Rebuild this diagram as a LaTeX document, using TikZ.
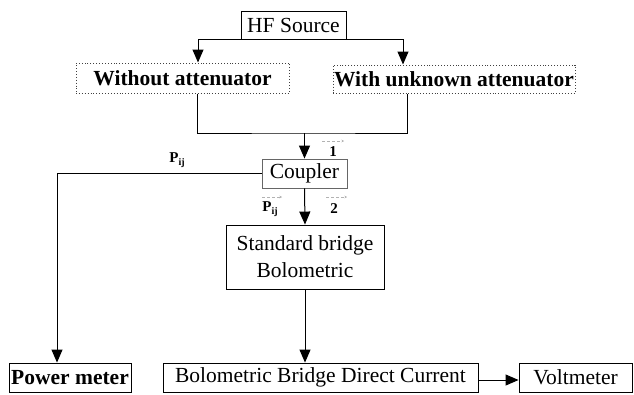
\documentclass[tikz,border=0pt]{standalone}
\usepackage{fontspec}
\setmainfont{Liberation Serif}
\usetikzlibrary{arrows.meta}
\tikzset{
  box/.style={draw=black, line width=0.9pt, rectangle, inner sep=0pt, align=center,
              font=\fontsize{21.5}{27}\selectfont},
  dotbox/.style={box, draw=black!75, dotted, line width=1pt, font=\fontsize{21.5}{27}\selectfont\bfseries},
  conn/.style={draw=black, line width=1pt},
  arr/.style={conn, -{Triangle[width=11pt,length=13pt]}},
  lbl/.style={inner sep=0pt, font=\fontsize{15}{18}\selectfont\bfseries},
  vec/.style={draw=black!30, line width=0.6pt, densely dashed, -{Stealth[length=2.5pt,width=2.5pt]}}
}
\newcommand{\pij}{P\raisebox{-3pt}{\fontsize{10}{12}\selectfont ij}}
\begin{document}
\begin{tikzpicture}[x=1pt,y=-1pt]
\useasboundingbox (0,0) rectangle (634,394);

% blocks
\node[box, minimum width=105, minimum height=28] (hf) at (293.5,25) {HF Source};
\node[dotbox, minimum width=213, minimum height=30] (wo) at (182.5,78) {Without attenuator};
\node[dotbox, minimum width=242, minimum height=28] (wi) at (454,79) {With unknown attenuator};
\node[box, draw=black!60, minimum width=85, minimum height=29] (cp) at (304.5,173.5) {Coupler};
\node[box, minimum width=158, minimum height=64] (sb) at (305,257) {Standard bridge\\Bolometric};
\node[box, minimum width=122, minimum height=29, font=\fontsize{21.5}{27}\selectfont\bfseries] (pm) at (70,377.5) {Power meter};
\node[box, minimum width=315, minimum height=29] (bb) at (320.5,377.5) {Bolometric Bridge Direct Current};
\node[box, minimum width=113, minimum height=29] (vm) at (575.5,377.5) {Voltmeter};

% source split
\draw[arr] (hf.south) -| ([xshift=15.5]wo.north);
\draw[arr] (hf.south) -| ([xshift=-51]wi.north);

% merge into coupler
\coordinate (j) at (304.5,133);
\draw[conn] ([xshift=14.5]wo.south) |- (j) -| ([xshift=-47]wi.south);
\draw[arr] (j) -- (cp.north);

% coupler outputs
\draw[arr] (cp.west) -| ([xshift=-13]pm.north);
\draw[arr] (cp.south) -- (sb.north);
\draw[arr] (sb.south) -- (sb.south |- bb.north);
\draw[arr] ([yshift=-2.5]bb.east) -- ([yshift=-2.5]vm.west);

% port labels
\node[lbl] (p1) at (177,160) {\pij};
\node[lbl] (n1) at (333,152) {1};
\node[lbl] (p2) at (270,209) {\pij};
\node[lbl] (n2) at (334,209) {2};

% faint vector marks
\draw[vec] ([xshift=-11,yshift=11]n1.center) -- ([xshift=11,yshift=11]n1.center);
\draw[vec] ([xshift=-8,yshift=12]p2.center) -- ([xshift=12,yshift=12]p2.center);
\draw[vec] ([xshift=-8,yshift=12]n2.center) -- ([xshift=13,yshift=12]n2.center);
\end{tikzpicture}
\end{document}
